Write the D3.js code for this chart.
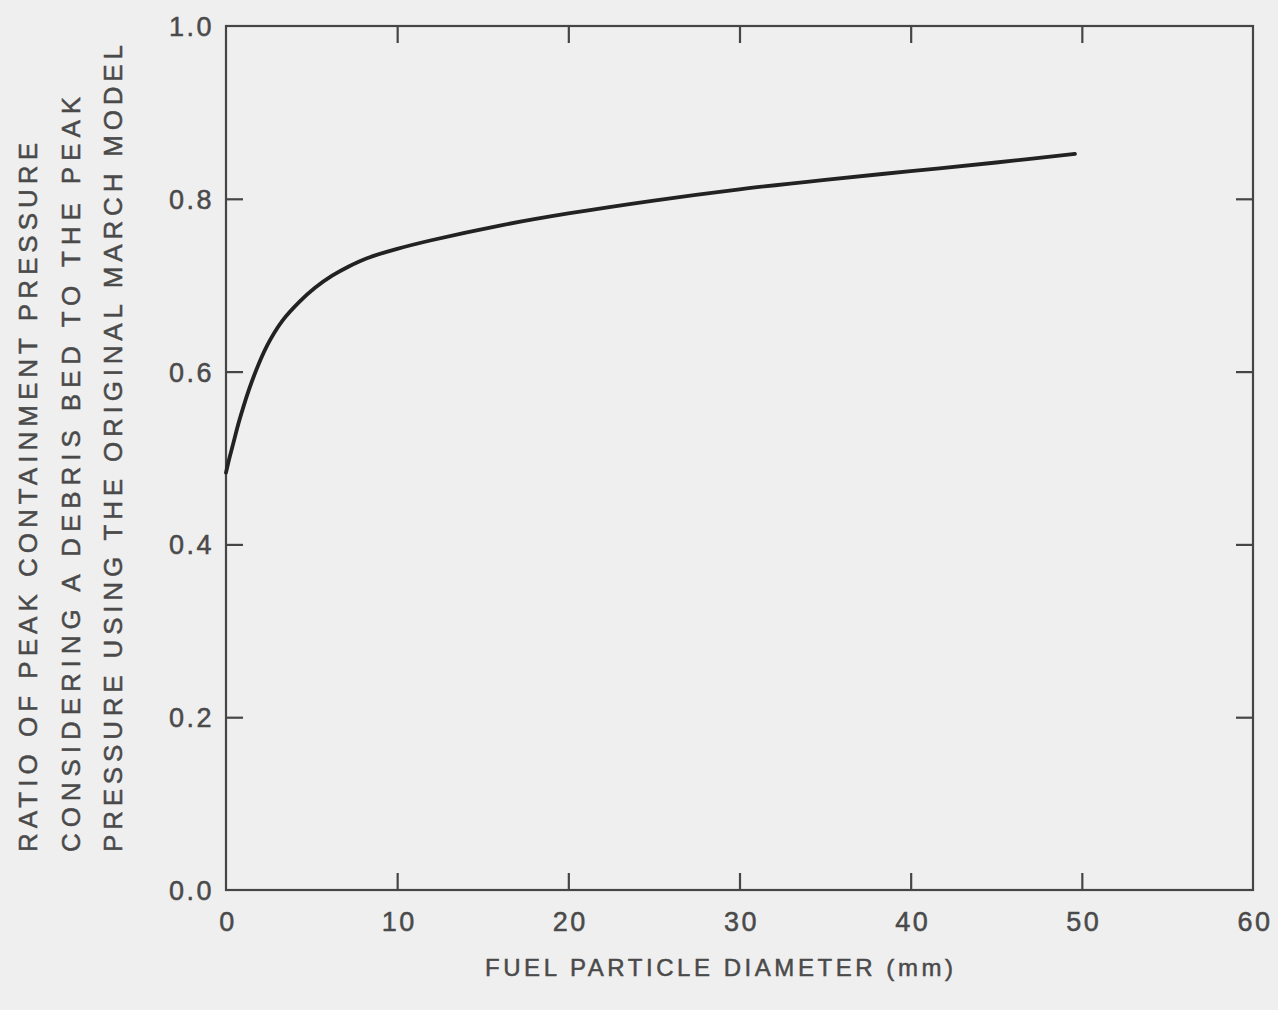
<!DOCTYPE html>
<html>
<head>
<meta charset="utf-8">
<script src="https://cdn.jsdelivr.net/npm/d3@7"></script>
<style>
  html, body { margin: 0; padding: 0; background: #efefef; }
  svg { display: block; }
  text { font-family: "Liberation Sans", Arial, Helvetica, sans-serif; fill: #4a4a4a; stroke: #4a4a4a; stroke-width: 0.5px; }
</style>
</head>
<body>
<svg id="chart" width="1278" height="1010"></svg>
<script>
// Fuel particle diameter (mm) and the resulting peak-pressure ratio
const diameters = [0, 0.2, 0.4, 0.8, 1.5, 2.4, 3.3, 4.3, 5.2, 6.2, 7.2, 8.2, 10, 12, 16, 20, 25, 30, 35, 40, 45, 49.6];
const ratios    = [0.483, 0.50, 0.515, 0.545, 0.588, 0.630, 0.659, 0.681, 0.697, 0.711, 0.722, 0.731, 0.742, 0.752, 0.769, 0.783, 0.798, 0.811, 0.822, 0.832, 0.842, 0.852];

const xTicks = [0, 10, 20, 30, 40, 50, 60];
const yTicks = [0.0, 0.2, 0.4, 0.6, 0.8, 1.0];

const xTitle = "FUEL PARTICLE DIAMETER (mm)";
const yTitleLines = [
  "RATIO OF PEAK CONTAINMENT PRESSURE",
  "CONSIDERING A DEBRIS BED TO THE PEAK",
  "PRESSURE USING THE ORIGINAL MARCH MODEL"
];

const svg = d3.select("#chart");
const plotLeft = 226, plotRight = 1253, plotTop = 26, plotBottom = 890;

const x = d3.scaleLinear().domain([0, 60]).range([plotLeft, plotRight]);
const y = d3.scaleLinear().domain([0, 1]).range([plotBottom, plotTop]);

const frameColor = "#454545";
const tickLen = 17;

// inward-pointing ticks on all four sides
const axes = [
  { gen: d3.axisBottom(x).tickValues(xTicks.slice(1, -1)).tickSize(-tickLen), pos: `translate(0,${plotBottom})` },
  { gen: d3.axisTop(x).tickValues(xTicks.slice(1, -1)).tickSize(-tickLen), pos: `translate(0,${plotTop})` },
  { gen: d3.axisLeft(y).tickValues(yTicks.slice(1, -1)).tickSize(-tickLen), pos: `translate(${plotLeft},0)` },
  { gen: d3.axisRight(y).tickValues(yTicks.slice(1, -1)).tickSize(-tickLen), pos: `translate(${plotRight},0)` }
];
axes.forEach(a => {
  const g = svg.append("g").attr("transform", a.pos).call(a.gen.tickFormat(""));
  g.select(".domain").remove();
  g.selectAll(".tick line").attr("stroke", frameColor).attr("stroke-width", 2.2);
});

// plot frame
svg.append("rect")
  .attr("x", plotLeft).attr("y", plotTop)
  .attr("width", plotRight - plotLeft).attr("height", plotBottom - plotTop)
  .attr("fill", "none").attr("stroke", frameColor).attr("stroke-width", 2.2);

// tick labels
svg.append("g").selectAll("text").data(xTicks).join("text")
  .attr("x", d => x(d) + 2)
  .attr("y", plotBottom + 41)
  .attr("text-anchor", "middle")
  .attr("font-size", 27)
  .attr("letter-spacing", 2.5)
  .text(d => d);

svg.append("g").selectAll("text").data(yTicks).join("text")
  .attr("x", plotLeft - 12)
  .attr("y", d => y(d) + 10)
  .attr("text-anchor", "end")
  .attr("font-size", 27)
  .attr("letter-spacing", 2.5)
  .text(d => d.toFixed(1));

// axis titles
svg.append("text")
  .attr("x", 485).attr("y", 976)
  .attr("font-size", 24)
  .attr("textLength", 468).attr("lengthAdjust", "spacing")
  .text(xTitle);

const yTitleSpan = [709, 755, 807];
const yTitleX = [37, 80, 122];
yTitleLines.forEach((t, i) => {
  svg.append("text")
    .attr("transform", `translate(${yTitleX[i]},852) rotate(-90)`)
    .attr("font-size", 26)
    .attr("textLength", yTitleSpan[i]).attr("lengthAdjust", "spacing")
    .text(t);
});

// pressure-ratio curve
const line = d3.line()
  .x((d, i) => x(diameters[i]))
  .y(d => y(d))
  .curve(d3.curveCatmullRom.alpha(0.5));

svg.append("path")
  .datum(ratios)
  .attr("d", line)
  .attr("fill", "none")
  .attr("stroke", "#222")
  .attr("stroke-width", 3.8)
  .attr("stroke-linecap", "round")
  .attr("stroke-linejoin", "round");
</script>
</body>
</html>
